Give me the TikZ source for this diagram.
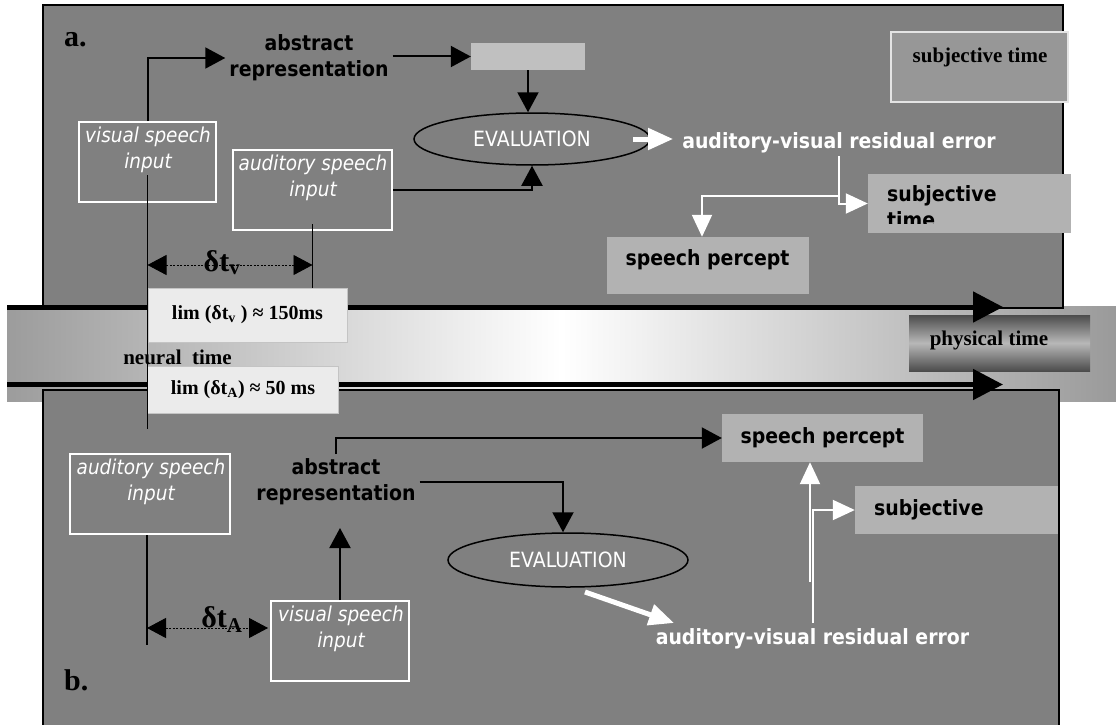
\documentclass[tikz,border=0pt]{standalone}
\usepackage{fontspec}
\setmainfont{Liberation Serif}
\newfontfamily\tah{DejaVu Sans}[FakeStretch=0.9]
\usetikzlibrary{arrows.meta,shapes.geometric,calc}
\definecolor{panel}{HTML}{808080}
\definecolor{lgbox}{HTML}{C0C0C0}
\definecolor{spbox}{HTML}{B2B2B2}
\definecolor{stbox}{HTML}{979797}
\definecolor{stline}{HTML}{E4E4E4}
\definecolor{limfill}{HTML}{EBEBEB}
\definecolor{limline}{HTML}{C4C4C4}
\definecolor{bandl}{HTML}{9C9C9C}
\definecolor{bandr}{HTML}{9A9A9A}
\definecolor{phdark}{HTML}{4C4C4C}
\definecolor{phlight}{HTML}{B8B8B8}
\begin{document}
\begin{tikzpicture}[x=1pt,y=-1pt,
  blk/.style={draw=black,line width=2pt,-{Triangle[length=20pt,width=21pt]}},
  wht/.style={draw=white,line width=2pt,-{Triangle[length=22pt,width=20pt]}},
  thickwht/.style={draw=white,line width=5pt,-{Triangle[length=25pt,width=21pt]}},
  plain/.style={draw=black,line width=1.5pt},
  wbox/.style={rectangle,draw=white,line width=2pt,inner sep=0pt},
  gbox/.style={rectangle,fill=spbox,inner sep=0pt},
  sansb/.style={font={\tah\bfseries\fontsize{21}{26}\selectfont},align=center,inner sep=4pt},
  sansi/.style={font={\tah\itshape\fontsize{20.5}{26}\selectfont},text=white,align=center,inner sep=0pt},
  sansr/.style={font={\tah\fontsize{21}{26}\selectfont},text=white},
  serb/.style={font={\bfseries\fontsize{21}{24}\selectfont},inner sep=0pt},
  serlim/.style={font={\bfseries\fontsize{20}{24}\selectfont}},
  biglab/.style={font={\bfseries\fontsize{30}{30}\selectfont},inner sep=0pt},
  limbox/.style={rectangle,fill=limfill,draw=limline,line width=1pt,inner sep=0pt,serlim},
  dtarrow/.style={draw=black,line width=0.9pt,dash pattern=on 2pt off 1.5pt,{Triangle[length=19pt,width=20pt]}-{Triangle[length=19pt,width=20pt]}},
  timearrow/.style={draw=black,line width=5pt,-{Triangle[length=30pt,width=30pt]}},
  panelbox/.style={fill=panel,draw=black,line width=1.5pt},
]
\useasboundingbox (0,0) rectangle (1116,725);
% band
\shade[left color=bandl,right color=bandr,middle color=white] (7,306) rectangle (1116,401);
% panels
\filldraw[panelbox] (43,5) rectangle (1063,308);
\filldraw[panelbox] (43,390) rectangle (1059,740);
% physical time box
\node[rectangle,minimum width=181,minimum height=56,inner sep=0,top color=phdark,bottom color=phdark,middle color=phlight] (physbox) at (999.5,343) {};
\node[serb] (phys) at (989,340) {physical time};
% time arrows
\coordinate (t1s) at (7,307); \coordinate (t1e) at (1003,307);
\coordinate (t2s) at (7,384.5); \coordinate (t2e) at (1003,384.5);
\draw[timearrow] (t1s) -- (t1e);
\draw[timearrow] (t2s) -- (t2e);
% lim boxes
\node[limbox,minimum width=199,minimum height=54] (lim1) at (247.5,315) {lim (δt\textsubscript{v} ) ≈ 150ms};
\node[limbox,minimum width=190.5,minimum height=47] (lim2) at (243,389.5) {lim (δt\textsubscript{A}) ≈ 50 ms};
\node[serb] (neural) at (177.5,357) {neural\ \ time};

% ---------- panel a ----------
\node[biglab,anchor=base west] (alab) at (64,46.5) {a.};
\node[wbox,minimum width=137,minimum height=80] (vis) at (147.5,162) {};
\node[sansi] (vist) at (148,150) {visual speech\\input};
\node[wbox,minimum width=159,minimum height=80] (aud) at (312.5,190) {};
\node[sansi] (audt) at (313,178) {auditory speech\\input};
\node[sansb] (abs) at (309,58) {abstract\\representation};
\node[rectangle,fill=lgbox,minimum width=114,minimum height=27,inner sep=0] (gb) at (528,56.5) {};
\node[ellipse,draw=black,line width=1.5pt,minimum width=236,minimum height=52,sansr,inner sep=0] (ell) at (532,139) {EVALUATION};
\node[rectangle,fill=stbox,draw=stline,line width=1.5pt,minimum width=177,minimum height=70,inner sep=0] (subT) at (979.5,67) {};
\node[serb] (subTt) at (980,57) {subjective time};
\node[sansb,text=white,inner sep=3pt] (err) at (839,143) {auditory-visual residual error};
\node[gbox,minimum width=203,minimum height=59] (sub) at (969.5,203.5) {};
\begin{scope}
\clip (868,174) rectangle (1071,223);
\node[sansb,anchor=north west,align=left,inner sep=0] (subt) at (887,185) {subjective\\time};
\end{scope}
\node[gbox,minimum width=202,minimum height=57] (sp) at (708,265.5) {};
\node[sansb,inner sep=0] (spt) at (707.5,260) {speech percept};

\draw[blk] (vis.north) |- (abs.west);
\draw[blk] (abs.east |- gb.west) -- (gb.west);
\draw[blk] (gb.south) -- (gb.south |- ell.north);
\draw[blk] (aud.east) -| (ell.south);
\draw[plain] ([yshift=7pt]aud.south) -- (aud.south |- lim1.north);
\coordinate (vbot) at (147.5,429);
\draw[plain] ([yshift=-13pt]vis.center) -- (vbot);
\coordinate (dvl) at (147.5,265); \coordinate (dvr) at (312.5,265);
\draw[dtarrow] (dvl) -- (dvr);
\node[biglab,anchor=base] (dtv) at (222,271) {δt\textsubscript{v}};
\coordinate (e1) at ([xshift=-18pt]ell.east);
\draw[thickwht,shorten >=6pt] (e1) -- (e1 -| err.west);
\draw[wht] (err.south) |- (sub.west);
\coordinate (br1) at (839,196);
\draw[wht] (br1) -| ([xshift=-6pt]sp.north);

% ---------- panel b ----------
\node[biglab,anchor=base west] (blab) at (64,690) {b.};
\node[wbox,minimum width=160,minimum height=80] (aud2) at (150,494) {};
\node[sansi] (aud2t) at (151,482) {auditory speech\\input};
\node[wbox,minimum width=138,minimum height=80] (vis2) at (340,641) {};
\node[sansi] (vis2t) at (341,628.5) {visual speech\\input};
\node[sansb] (abs2) at (336,481.5) {abstract\\representation};
\node[ellipse,draw=black,line width=1.5pt,minimum width=240,minimum height=54,sansr,inner sep=0] (ell2) at (568,560) {EVALUATION};
\node[gbox,minimum width=201,minimum height=48] (sp2) at (822.5,438) {};
\node[sansb,inner sep=0] (sp2t) at (822.5,438) {speech percept};
\node[gbox,minimum width=203,minimum height=48] (sub2) at (956.5,510) {};
\node[sansb,anchor=west,inner sep=0] (sub2t) at (874,510) {subjective};
\node[sansb,text=white] (err2) at (812.5,639) {auditory-visual residual error};

\coordinate (albot) at (147,645);
\draw[plain] (aud2.south -| albot) -- (albot);
\coordinate (dal) at (147,628); \coordinate (dar) at (268,628);
\draw[dtarrow] (dal) -- (dar);
\node[biglab,anchor=base] (dta) at (222,627) {δt\textsubscript{A}};
\coordinate (abs2tip) at (340,528);
\draw[blk] (vis2.north) -- (abs2tip);
\draw[blk] (abs2.north) |- (sp2.west);
\draw[blk] (abs2.east) -| ([xshift=-5pt]ell2.north);
\coordinate (e2s) at (585,592); \coordinate (e2t) at (674,623);
\draw[thickwht] (e2s) -- (e2t);
\coordinate (la) at (813,623);
\draw[wht] (la) |- (sub2.west);
\coordinate (lb) at (810,582);
\draw[wht] (lb) -- (lb |- sp2.south);
\end{tikzpicture}
\end{document}
